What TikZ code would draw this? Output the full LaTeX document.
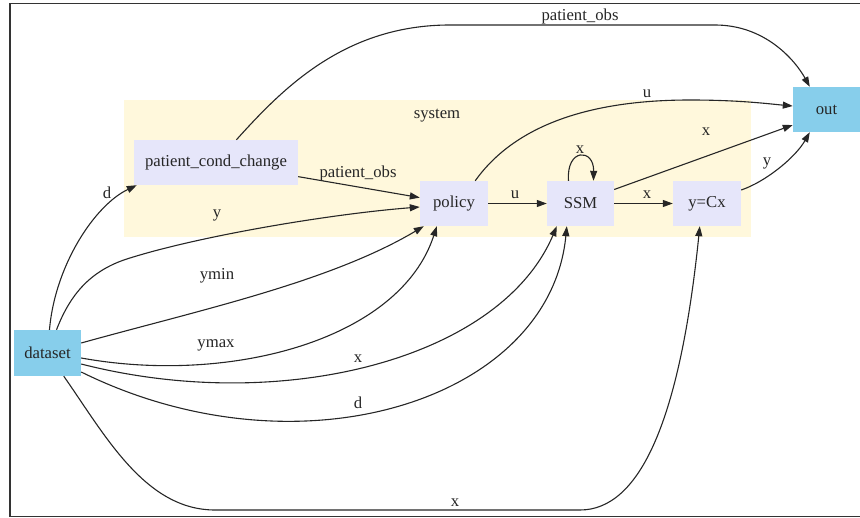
\documentclass[tikz,border=0pt]{standalone}
\usepackage{fontspec}
\setmainfont{Liberation Serif}
\usetikzlibrary{arrows.meta}
\definecolor{clusterbg}{HTML}{FFF8DC}
\definecolor{lav}{HTML}{E6E6FA}
\definecolor{sky}{HTML}{87CEEB}
\begin{document}
\begin{tikzpicture}[x=1pt,y=-1pt,
  every node/.style={font=\fontsize{16.7}{20}\selectfont, text=black!85},
  box/.style={fill=lav, minimum height=45pt, inner sep=0pt},
  io/.style={fill=sky, minimum height=45pt, minimum width=67pt, inner sep=0pt},
  edge/.style={draw=black!85, line width=1.1pt, -{Triangle[length=10pt,width=7pt]}},
  lbl/.style={inner sep=0pt}]
\useasboundingbox (0,0) rectangle (860,518);
% frame
\draw[black!80, line width=1.5pt] (875,3.5) -- (10,3.5) -- (10,516.5) -- (875,516.5);
% cluster
\node[fill=clusterbg, minimum width=627pt, minimum height=137pt, inner sep=0pt] (cluster) at (437.5,168.5) {};
\node[lbl] (systemlbl) at (437,116) {system};
% nodes
\node[box, minimum width=164pt] (pcc) at (216,162.5) {patient\_cond\_change};
\node[box, minimum width=68pt] (policy) at (454,203.5) {policy};
\node[box, minimum width=67pt] (ssm) at (580.5,203.5) {SSM};
\node[box, minimum width=68pt] (ycx) at (707,203.5) {y=Cx};
\node[io] (out) at (826.5,109.5) {out};
\node[io, minimum height=46pt] (dataset) at (47.5,353) {dataset};
% edges
\draw[edge] (pcc) .. controls (283,88) and (345,25) .. (450,25) -- (715,25) .. controls (765,25) and (795,60) .. ([xshift=17pt]out.north west);
\draw[edge] (pcc) -- (policy);
\draw[edge] (dataset) .. controls (55,265) and (95,205) .. ([xshift=3pt]pcc.south west);
\draw[edge] (dataset) .. controls (70,295) and (90,270) .. (130,258) .. controls (200,236) and (330,214) .. ([yshift=-3.5pt]policy.west);
\draw[edge] ([yshift=10pt]dataset.east) .. controls (200,310) and (330,282) .. ([xshift=4pt]policy.south west);
\draw[edge] ([yshift=-5pt]dataset.east) .. controls (230,385) and (400,340) .. ([xshift=17pt]policy.south west);
\draw[edge] ([yshift=-11pt]dataset.east) .. controls (280,415) and (500,360) .. ([xshift=10pt]ssm.south west);
\draw[edge] ([yshift=-19pt]dataset.east) .. controls (300,480) and (550,400) .. ([xshift=20pt]ssm.south west);
\draw[edge] (dataset) .. controls (105,435) and (145,510) .. (215,510) -- (580,510) .. controls (640,510) and (680,420) .. ([xshift=27pt]ycx.south west);
\draw[edge] (policy) -- (ssm);
\draw[edge] (ssm) -- (ycx);
\draw[edge] ([xshift=-12pt]ssm.north) .. controls (566,148) and (594,148) .. ([xshift=13pt]ssm.north);
\draw[edge] ([yshift=14pt]ssm.east) -- ([yshift=-15.5pt]out.west);
\draw[edge] ([xshift=-13pt]policy.north east) .. controls (515,125) and (590,100) .. (690,100) .. controls (740,100) and (770,104) .. ([yshift=3.5pt]out.west);
\draw[edge] ([yshift=13.5pt]ycx.east) .. controls (765,182) and (795,158) .. ([xshift=17pt]out.south west);
% labels
\node[lbl] (l1) at (580,16) {patient\_obs};
\node[lbl] (l2) at (358,173) {patient\_obs};
\node[lbl] (l3) at (107,193) {d};
\node[lbl] (l4) at (217,215) {y};
\node[lbl] (l5) at (217,276) {ymin};
\node[lbl] (l6) at (216,345) {ymax};
\node[lbl] (l7) at (358,359) {x};
\node[lbl] (l8) at (358,403) {d};
\node[lbl] (l9) at (455,503) {x};
\node[lbl] (l10) at (515,195) {u};
\node[lbl] (l11) at (647,195) {x};
\node[lbl] (l12) at (580,150) {x};
\node[lbl] (l13) at (706,132) {x};
\node[lbl] (l14) at (647,94) {u};
\node[lbl] (l15) at (767,163) {y};
\end{tikzpicture}
\end{document}
